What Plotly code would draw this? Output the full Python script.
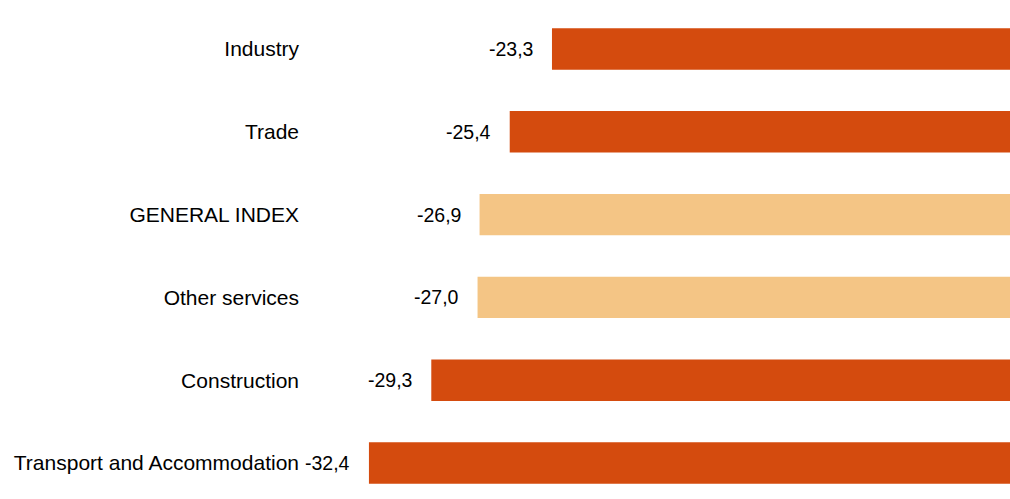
import plotly.graph_objects as go

categories = ["Industry", "Trade", "GENERAL INDEX", "Other services", "Construction",
              "Transport and Accommodation"]
values = [-23.3, -25.4, -26.9, -27.0, -29.3, -32.4]
highlight = [False, False, True, True, False, False]

DARK = "#D44B0E"
LIGHT = "#F4C585"
colors = [LIGHT if h else DARK for h in highlight]
labels = [f"{v:.1f}".replace(".", ",") for v in values]

FAMILY = "Liberation Sans, Arial, sans-serif"
CAT_FONT = dict(family=FAMILY, size=21, color="#000000")
VAL_FONT = dict(family=FAMILY, size=19.5, color="#000000")

fig = go.Figure(go.Bar(
    x=values, y=categories, orientation="h",
    marker=dict(color=colors, line=dict(width=0)),
    width=0.5, hoverinfo="skip",
))

for c, v, t in zip(categories, values, labels):
    fig.add_annotation(x=v, y=c, text=t, showarrow=False, xanchor="right",
                       yanchor="middle", xshift=-17, font=VAL_FONT)

fig.update_layout(
    width=1010, height=499,
    margin=dict(l=308, r=0, t=0, b=0),
    paper_bgcolor="white", plot_bgcolor="white",
    showlegend=False,
    font=CAT_FONT,
    xaxis=dict(range=[-35.43, -0.527], showgrid=False, zeroline=False, showticklabels=False,
               showline=False, fixedrange=True),
    yaxis=dict(range=[5.435, -0.592], showgrid=False, zeroline=False, showline=False,
               ticks="", tickfont=CAT_FONT, ticklabelstandoff=8, fixedrange=True),
)

fig.write_html(
    "out.html",
    config={"displayModeBar": False},
    post_script="document.body.style.margin='0';document.body.style.overflow='hidden';",
)
